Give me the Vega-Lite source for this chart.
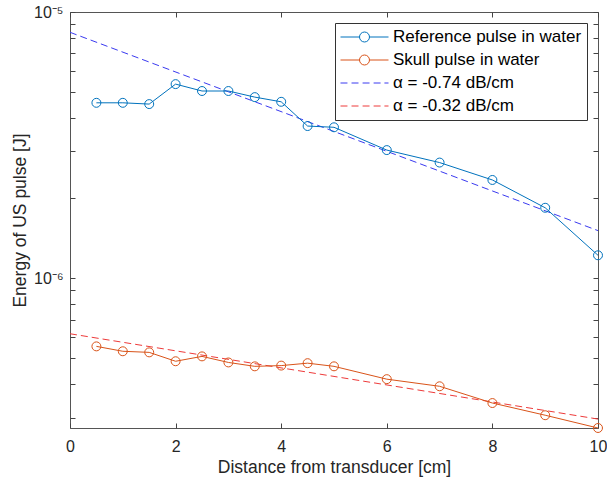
{
  "$schema": "https://vega.github.io/schema/vega-lite/v6.json",
  "width": 528,
  "height": 416,
  "autosize": {"type": "none"},
  "padding": {"left": 70, "top": 12, "right": 9, "bottom": 53},
  "background": "white",
  "config": {
    "view": {"stroke": "#555555", "strokeWidth": 1},
    "font": "Liberation Sans",
    "axis": {
      "domain": false,
      "grid": false,
      "tickColor": "#444444",
      "tickSize": -5,
      "labelFont": "Liberation Sans",
      "labelFontSize": 16,
      "labelColor": "#262626",
      "titleFont": "Liberation Sans",
      "titleFontSize": 17.5,
      "titleFontWeight": "normal",
      "titleColor": "#262626",
      "labelOverlap": false,
      "labelFlush": false
    }
  },
  "data": {
    "values": [
      {"series": "Reference pulse in water", "x": 0.5, "y": 4.56e-6},
      {"series": "Reference pulse in water", "x": 1, "y": 4.56e-6},
      {"series": "Reference pulse in water", "x": 1.5, "y": 4.51e-6},
      {"series": "Reference pulse in water", "x": 2, "y": 5.36e-6},
      {"series": "Reference pulse in water", "x": 2.5, "y": 5.05e-6},
      {"series": "Reference pulse in water", "x": 3, "y": 5.05e-6},
      {"series": "Reference pulse in water", "x": 3.5, "y": 4.79e-6},
      {"series": "Reference pulse in water", "x": 4, "y": 4.60e-6},
      {"series": "Reference pulse in water", "x": 4.5, "y": 3.73e-6},
      {"series": "Reference pulse in water", "x": 5, "y": 3.69e-6},
      {"series": "Reference pulse in water", "x": 6, "y": 3.03e-6},
      {"series": "Reference pulse in water", "x": 7, "y": 2.72e-6},
      {"series": "Reference pulse in water", "x": 8, "y": 2.34e-6},
      {"series": "Reference pulse in water", "x": 9, "y": 1.84e-6},
      {"series": "Reference pulse in water", "x": 10, "y": 1.22e-6},
      {"series": "Skull pulse in water", "x": 0.5, "y": 5.55e-7},
      {"series": "Skull pulse in water", "x": 1, "y": 5.32e-7},
      {"series": "Skull pulse in water", "x": 1.5, "y": 5.27e-7},
      {"series": "Skull pulse in water", "x": 2, "y": 4.88e-7},
      {"series": "Skull pulse in water", "x": 2.5, "y": 5.09e-7},
      {"series": "Skull pulse in water", "x": 3, "y": 4.83e-7},
      {"series": "Skull pulse in water", "x": 3.5, "y": 4.67e-7},
      {"series": "Skull pulse in water", "x": 4, "y": 4.70e-7},
      {"series": "Skull pulse in water", "x": 4.5, "y": 4.80e-7},
      {"series": "Skull pulse in water", "x": 5, "y": 4.67e-7},
      {"series": "Skull pulse in water", "x": 6, "y": 4.18e-7},
      {"series": "Skull pulse in water", "x": 7, "y": 3.93e-7},
      {"series": "Skull pulse in water", "x": 8, "y": 3.40e-7},
      {"series": "Skull pulse in water", "x": 9, "y": 3.06e-7},
      {"series": "Skull pulse in water", "x": 10, "y": 2.74e-7},
      {"series": "α = -0.74 dB/cm", "x": 0, "y": 8.39e-6},
      {"series": "α = -0.74 dB/cm", "x": 10, "y": 1.51e-6},
      {"series": "α = -0.32 dB/cm", "x": 0, "y": 6.19e-7},
      {"series": "α = -0.32 dB/cm", "x": 10, "y": 2.96e-7}
    ]
  },
  "layer": [
    {
      "transform": [{"filter": "indexof(datum.series, 'α') >= 0"}],
      "mark": {"type": "line", "strokeWidth": 1, "strokeDash": [7, 4]},
      "encoding": {
        "x": {"field": "x", "type": "quantitative", "scale": {"domain": [0, 10], "nice": false, "zero": false},
              "axis": {"orient": "bottom", "values": [0, 2, 4, 6, 8, 10], "title": "Distance from transducer [cm]", "labelPadding": 15, "titlePadding": 4}},
        "y": {"field": "y", "type": "quantitative", "scale": {"type": "log", "domain": [2.74e-7, 1e-5], "nice": false},
              "axis": {"orient": "left", "title": "Energy of US pulse [J]", "labelPadding": 12, "titlePadding": 4,
                       "values": [3e-7, 4e-7, 5e-7, 6e-7, 7e-7, 8e-7, 9e-7, 1e-6, 2e-6, 3e-6, 4e-6, 5e-6, 6e-6, 7e-6, 8e-6, 9e-6, 1e-5],
                       "labelExpr": "abs(log(datum.value)/LN10 + 5) < 0.01 ? '10⁻⁵' : (abs(log(datum.value)/LN10 + 6) < 0.01 ? '10⁻⁶' : '')"}},
        "color": {"field": "series", "type": "nominal",
          "scale": {"domain": ["Reference pulse in water", "Skull pulse in water", "α = -0.74 dB/cm", "α = -0.32 dB/cm"],
                    "range": ["#0072BD", "#D95319", "#3a3af0", "#ee3a3a"]},
          "legend": {
            "title": null,
            "orient": "top-right",
            "offset": 11,
            "strokeColor": "#333333",
            "fillColor": "white",
            "padding": 5,
            "labelFont": "Liberation Sans",
            "labelFontSize": 17,
            "labelColor": "#000000",
            "labelLimit": 400,
            "labelOffset": 4,
            "symbolSize": 2304,
            "symbolStrokeWidth": 1,
            "symbolType": "stroke",
            "clipHeight": 18,
            "rowPadding": 5,
            "encode": {
              "symbols": {
                "update": {
                  "shape": {"signal": "indexof(datum.value, 'α') < 0 ? 'M-1,0L-0.2083,0M0.2083,0L1,0M0.2083,0A0.2083,0.2083 0 1,1 -0.2083,0A0.2083,0.2083 0 1,1 0.2083,0' : 'M-1,0L-0.71,0M-0.54,0L-0.25,0M-0.08,0L0.21,0M0.38,0L0.67,0M0.83,0L1,0'"},
                  "fill": {"value": "transparent"},
                  "strokeDash": {"value": []}
                }
              }
            }
          }}
      }
    },
    {
      "transform": [{"filter": "indexof(datum.series, 'α') < 0"}],
      "mark": {"type": "line", "strokeWidth": 1},
      "encoding": {
        "x": {"field": "x", "type": "quantitative", "axis": null},
        "y": {"field": "y", "type": "quantitative", "axis": null},
        "color": {"field": "series", "type": "nominal"}
      }
    },
    {
      "transform": [{"filter": "indexof(datum.series, 'α') < 0"}],
      "mark": {"type": "point", "shape": "circle", "filled": false, "size": 80, "strokeWidth": 1, "opacity": 1},
      "encoding": {
        "x": {"field": "x", "type": "quantitative", "axis": null},
        "y": {"field": "y", "type": "quantitative", "axis": null},
        "color": {"field": "series", "type": "nominal"}
      }
    },
    {
      "mark": {"type": "point", "opacity": 0},
      "encoding": {
        "x": {"field": "x", "type": "quantitative",
              "axis": {"orient": "top", "values": [0, 2, 4, 6, 8, 10], "labels": false, "title": null}},
        "y": {"field": "y", "type": "quantitative",
              "axis": {"orient": "right", "labels": false, "title": null,
                       "values": [3e-7, 4e-7, 5e-7, 6e-7, 7e-7, 8e-7, 9e-7, 1e-6, 2e-6, 3e-6, 4e-6, 5e-6, 6e-6, 7e-6, 8e-6, 9e-6, 1e-5]}}
      }
    }
  ],
  "resolve": {"axis": {"x": "independent", "y": "independent"}}
}
